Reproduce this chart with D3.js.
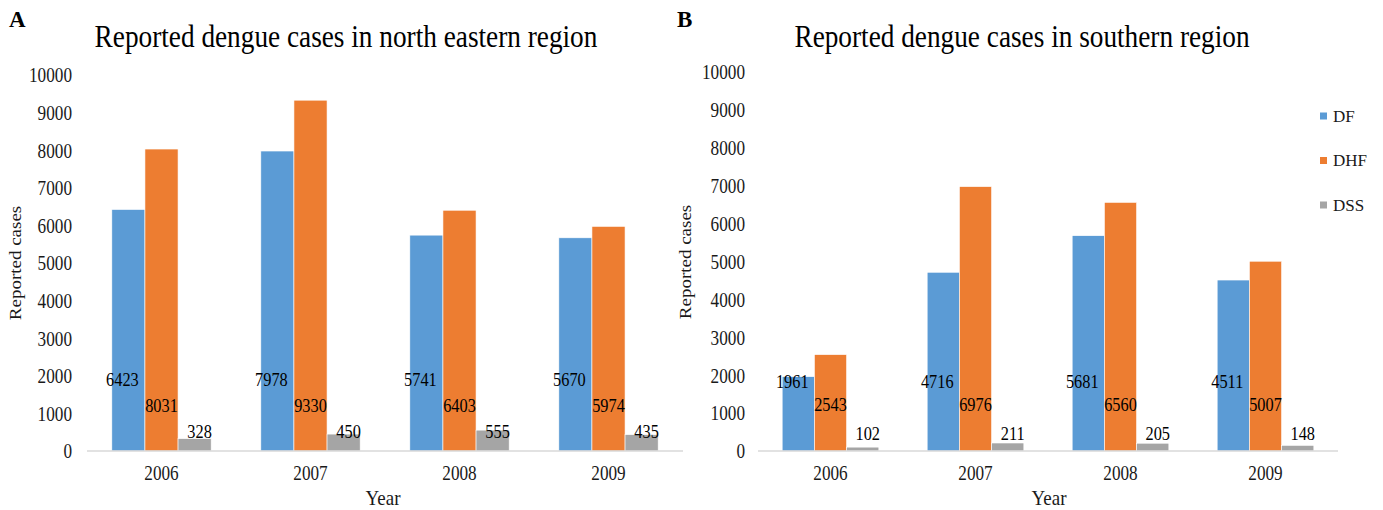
<!DOCTYPE html>
<html>
<head>
<meta charset="utf-8">
<script src="https://cdn.jsdelivr.net/npm/d3@7"></script>
<style>
  html, body { margin: 0; padding: 0; background: #ffffff; }
  svg { display: block; }
  svg text { font-family: "Liberation Serif", "Times New Roman", serif !important; }
</style>
</head>
<body>
<svg id="chart" width="1383" height="510"></svg>
<script>
// Reported dengue cases by year and category
const years = ["2006", "2007", "2008", "2009"];
const seriesNames = ["DF", "DHF", "DSS"];
const seriesColors = ["#5B9BD5", "#ED7D31", "#A5A5A5"];
const yTickValues = [0, 1000, 2000, 3000, 4000, 5000, 6000, 7000, 8000, 9000, 10000];

// North eastern region
const northEastDF  = [6423, 7978, 5741, 5670];
const northEastDHF = [8031, 9330, 6403, 5974];
const northEastDSS = [328, 450, 555, 435];

// Southern region
const southernDF  = [1961, 4716, 5681, 4511];
const southernDHF = [2543, 6976, 6560, 5007];
const southernDSS = [102, 211, 205, 148];

const svg = d3.select("#chart");
const SX = 0.86;          // horizontal squeeze applied to chart text
const textColor = "#1a1a1a";
const serif = "'Liberation Serif', 'Times New Roman', serif";

function buildRows(df, dhf, dss) {
  return years.map((yr, i) => ({ year: yr, values: [df[i], dhf[i], dss[i]] }));
}

function drawPanel(cfg) {
  const rows = buildRows(cfg.df, cfg.dhf, cfg.dss);
  const g = svg.append("g").style("font-family", serif);

  const x0 = d3.scaleBand().domain(years).range([cfg.left, cfg.right]).paddingInner(0).paddingOuter(0);
  const x1 = d3.scaleBand().domain(seriesNames).range([0, x0.bandwidth()]).paddingInner(0).paddingOuter(0.75);
  const y = d3.scaleLinear().domain([0, 10000]).range([cfg.bottom, cfg.top]);

  // panel letter
  g.append("text")
    .attr("x", cfg.letterX).attr("y", 27)
    .attr("font-size", 23).attr("font-weight", "bold").attr("fill", "#000")
    .text(cfg.letter);

  // title
  g.append("text")
    .attr("transform", `translate(${cfg.titleX},47) scale(0.88,1)`)
    .attr("text-anchor", "middle")
    .attr("font-size", 31).attr("fill", "#000")
    .text(cfg.title);

  // y axis (labels only)
  const yAxis = g.append("g")
    .attr("transform", `translate(${cfg.left},0)`)
    .call(d3.axisLeft(y).tickValues(yTickValues).tickSize(0).tickFormat(d3.format("d")));
  yAxis.attr("font-family", null);
  yAxis.select(".domain").remove();
  yAxis.selectAll("text")
    .attr("x", 0).attr("dy", "0.34em")
    .attr("transform", `translate(${cfg.tickLabelX - cfg.left},0) scale(${SX},1)`)
    .attr("text-anchor", "end")
    .attr("font-size", 20).attr("fill", textColor);

  // bars
  const groups = g.append("g").selectAll("g")
    .data(rows).join("g")
    .attr("transform", d => `translate(${x0(d.year)},0)`);

  groups.selectAll("rect")
    .data(d => d.values.map((v, k) => ({ name: seriesNames[k], value: v, k })))
    .join("rect")
    .attr("x", d => x1(d.name))
    .attr("width", x1.bandwidth())
    .attr("y", d => y(d.value))
    .attr("height", d => y(0) - y(d.value))
    .attr("fill", d => seriesColors[d.k])
    .attr("stroke", "#ffffff").attr("stroke-width", 0.6);

  // data labels, arranged in three rows near the base
  const labelRowOffset = cfg.labelRows;     // baseline distance above zero
  const labelShift = [-6, 0, 5];
  groups.selectAll("text.val")
    .data(d => d.values.map((v, k) => ({ name: seriesNames[k], value: v, k })))
    .join("text")
    .attr("class", "val")
    .attr("transform", d => `translate(${x1(d.name) + x1.bandwidth() / 2 + labelShift[d.k]},${y(0) - labelRowOffset[d.k]}) scale(${SX},1)`)
    .attr("text-anchor", "middle")
    .attr("font-size", 19).attr("fill", "#000")
    .text(d => d.value);

  // baseline
  g.append("line")
    .attr("x1", cfg.left).attr("x2", cfg.right)
    .attr("y1", y(0)).attr("y2", y(0))
    .attr("stroke", "#D9D9D9").attr("stroke-width", 1.5);

  // x axis labels
  const xAxis = g.append("g")
    .attr("transform", `translate(0,${y(0)})`)
    .call(d3.axisBottom(x0).tickSize(0));
  xAxis.attr("font-family", null);
  xAxis.select(".domain").remove();
  xAxis.selectAll("text")
    .attr("x", 0).attr("y", 0).attr("dy", 0)
    .attr("transform", `translate(0,29) scale(${SX},1)`)
    .attr("font-size", 20).attr("fill", textColor);

  // axis titles
  g.append("text")
    .attr("transform", `translate(${cfg.xTitleX},505) scale(0.95,1)`)
    .attr("text-anchor", "middle")
    .attr("font-size", 20).attr("fill", textColor)
    .text("Year");

  g.append("text")
    .attr("transform", `translate(${cfg.yTitleX},${cfg.yTitleY}) rotate(-90) scale(1,${SX})`)
    .attr("text-anchor", "middle")
    .attr("font-size", 19).attr("fill", textColor)
    .text("Reported cases");

  return g;
}

drawPanel({
  letter: "A", letterX: 9,
  title: "Reported dengue cases in north eastern region", titleX: 346,
  df: northEastDF, dhf: northEastDHF, dss: northEastDSS,
  left: 87, right: 683, top: 75, bottom: 451,
  tickLabelX: 72, xTitleX: 383, yTitleX: 21, yTitleY: 263,
  labelRows: [65, 39, 13]
});

drawPanel({
  letter: "B", letterX: 677,
  title: "Reported dengue cases in southern region", titleX: 1022,
  df: southernDF, dhf: southernDHF, dss: southernDSS,
  left: 758, right: 1338, top: 72, bottom: 451,
  tickLabelX: 745, xTitleX: 1049, yTitleX: 691, yTitleY: 262,
  labelRows: [63, 40, 11]
});

// legend
const legend = svg.append("g").style("font-family", serif).selectAll("g")
  .data(seriesNames).join("g")
  .attr("transform", (d, i) => `translate(1320,${116 + i * 44.5})`);
legend.append("rect")
  .attr("x", 0).attr("y", -3.5).attr("width", 7).attr("height", 7)
  .attr("fill", (d, i) => seriesColors[i]);
legend.append("text")
  .attr("x", 13).attr("y", 0).attr("dy", "0.34em")
  .attr("font-size", 17).attr("fill", textColor)
  .text(d => d);
</script>
</body>
</html>
